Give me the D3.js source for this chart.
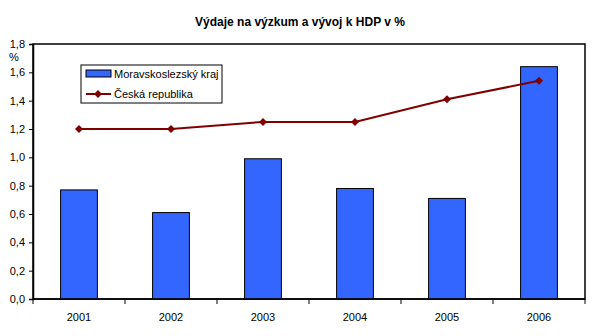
<!DOCTYPE html>
<html lang="cs">
<head>
<meta charset="UTF-8">
<title>Výdaje na výzkum a vývoj k HDP v %</title>
<script src="https://d3js.org/d3.v7.min.js"></script>
<style>
  body { margin: 0; background: #fff; }
  svg text { font-family: "Liberation Sans", Arial, sans-serif; fill: #000; }
</style>
</head>
<body>
<svg id="chart" width="603" height="336"></svg>
<script>
// data
const years = ['2001', '2002', '2003', '2004', '2005', '2006'];
const krajValues = [0.77, 0.61, 0.99, 0.78, 0.71, 1.64];
const crValues = [1.20, 1.20, 1.25, 1.25, 1.41, 1.54];
const yTicks = [0, 0.2, 0.4, 0.6, 0.8, 1.0, 1.2, 1.4, 1.6, 1.8];

const svg = d3.select('#chart');
const margin = { left: 33, right: 18, top: 44, bottom: 37 };
const width = 603, height = 336;

const x = d3.scaleBand()
    .domain(years)
    .range([margin.left, width - margin.right])
    .paddingInner(0.6)
    .paddingOuter(0.3);
const y = d3.scaleLinear()
    .domain([0, 1.8])
    .range([height - margin.bottom, margin.top]);

const fmt = d => d3.format('.1f')(d).replace('.', ',');

// title
svg.append('text')
    .attr('x', 300).attr('y', 26)
    .attr('text-anchor', 'middle')
    .style('font-size', '12px').style('font-weight', 'bold')
    .text('Výdaje na výzkum a vývoj k HDP v %');

// plot frame
svg.append('rect')
    .attr('x', margin.left).attr('y', margin.top)
    .attr('width', width - margin.right - margin.left)
    .attr('height', height - margin.bottom - margin.top)
    .attr('fill', 'none').attr('stroke', '#000').attr('stroke-width', 1.5);

// bars
svg.append('g').selectAll('rect')
    .data(krajValues)
    .join('rect')
    .attr('x', (d, i) => x(years[i]))
    .attr('y', d => y(d))
    .attr('width', x.bandwidth())
    .attr('height', d => y(0) - y(d))
    .attr('fill', '#3366FF')
    .attr('stroke', '#000').attr('stroke-width', 1);

// y axis
const yAxis = svg.append('g')
    .attr('transform', `translate(${margin.left},0)`)
    .call(d3.axisLeft(y).tickValues(yTicks).tickFormat(fmt).tickSize(4).tickPadding(4));
yAxis.select('.domain').attr('stroke', '#000').attr('stroke-width', 1.5);
yAxis.selectAll('text').style('font-size', '11px').style('font-family', '"Liberation Sans", Arial, sans-serif');

svg.append('text')
    .attr('x', 9).attr('y', 61)
    .style('font-size', '11px')
    .text('%');

// x axis with ticks between categories
const xAxisG = svg.append('g')
    .attr('transform', `translate(0,${y(0)})`);
xAxisG.append('line')
    .attr('x1', margin.left).attr('x2', width - margin.right)
    .attr('stroke', '#000').attr('stroke-width', 1.5);
const step = x.step();
const boundaries = d3.range(years.length + 1).map(i => margin.left + i * step);
xAxisG.selectAll('.tk')
    .data(boundaries)
    .join('line')
    .attr('x1', d => d).attr('x2', d => d)
    .attr('y1', 0).attr('y2', 5)
    .attr('stroke', '#000');
xAxisG.selectAll('.lbl')
    .data(years)
    .join('text')
    .attr('x', d => x(d) + x.bandwidth() / 2)
    .attr('y', 22)
    .attr('text-anchor', 'middle')
    .style('font-size', '11px')
    .text(d => d);

// line series
const cx = (d, i) => x(years[i]) + x.bandwidth() / 2;
svg.append('path')
    .datum(crValues)
    .attr('d', d3.line().x(cx).y(d => y(d)))
    .attr('fill', 'none')
    .attr('stroke', '#800000')
    .attr('stroke-width', 2);
svg.append('g').selectAll('path')
    .data(crValues)
    .join('path')
    .attr('transform', (d, i) => `translate(${cx(d, i)},${y(d)})`)
    .attr('d', 'M0,-4L4,0L0,4L-4,0Z')
    .attr('fill', '#800000');

// legend
const lg = svg.append('g');
lg.append('rect')
    .attr('x', 81).attr('y', 65).attr('width', 141).attr('height', 38)
    .attr('fill', '#fff').attr('stroke', '#000').attr('stroke-width', 1);
lg.append('rect')
    .attr('x', 86).attr('y', 70).attr('width', 25).attr('height', 7)
    .attr('fill', '#3366FF').attr('stroke', '#000');
lg.append('text')
    .attr('x', 114).attr('y', 78)
    .style('font-size', '11px')
    .text('Moravskoslezský kraj');
lg.append('line')
    .attr('x1', 86).attr('x2', 111).attr('y1', 94).attr('y2', 94)
    .attr('stroke', '#800000').attr('stroke-width', 2);
lg.append('path')
    .attr('transform', 'translate(98,94)')
    .attr('d', 'M0,-4L4,0L0,4L-4,0Z')
    .attr('fill', '#800000');
lg.append('text')
    .attr('x', 114).attr('y', 98)
    .style('font-size', '11px')
    .text('Česká republika');
</script>
</body>
</html>
